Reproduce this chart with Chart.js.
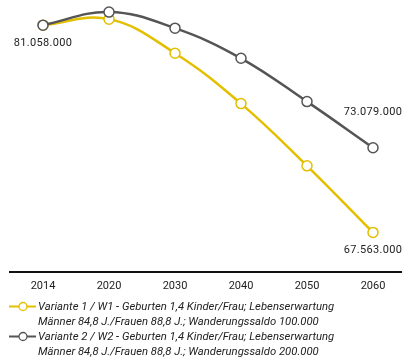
<!DOCTYPE html>
<html lang="de">
<head>
<meta charset="utf-8">
<script src="https://cdn.jsdelivr.net/npm/chart.js@4/dist/chart.umd.min.js"></script>
<style>
  html, body { margin: 0; padding: 0; background: #fff; overflow: hidden; }
  #wrap { position: relative; width: 402px; height: 363px; overflow: hidden; }
  #chart { position: absolute; left: 0; top: 0; }
  #legend { position: absolute; left: 0; top: 299px; width: 402px;
    font-family: Roboto, sans-serif; font-style: italic; font-size: 11.3px; color: #222; }
  .item { position: relative; padding-left: 38px; line-height: 15px; }
  .item svg { position: absolute; left: 9px; top: 2px; }
</style>
</head>
<body>
<div id="wrap">
  <canvas id="chart" width="406" height="301"></canvas>
  <div id="legend"></div>
</div>
<script>
// Bevölkerungsvorausberechnung, Werte in Mio.
const years = ['2014', '2020', '2030', '2040', '2050', '2060'];
const variante1 = [81.058, 81.45, 79.23, 75.95, 71.90, 67.563];
const variante2 = [81.058, 81.91, 80.86, 78.90, 76.08, 73.079];

const legend1 = ['Variante 1 / W1 - Geburten 1,4 Kinder/Frau; Lebenserwartung',
                 'Männer 84,8 J./Frauen 88,8 J.; Wanderungssaldo 100.000'];
const legend2 = ['Variante 2 / W2 - Geburten 1,4 Kinder/Frau; Lebenserwartung',
                 'Männer 84,8 J./Frauen 88,8 J.; Wanderungssaldo 200.000'];

const GELB = '#e3bf00';
const GRAU = '#555555';

// welche Punkte beschriftet werden: [datensatz, index, über/unter dem Punkt]
const beschriftungen = [[1, 0, 'unten'], [1, 5, 'oben'], [0, 5, 'unten']];

function fmt(v){
  const n = String(Math.round(v * 1e6));
  return n.replace(/\B(?=(\d{3})+(?!\d))/g, '.');
}

const wertLabels = {
  id: 'wertLabels',
  afterDatasetsDraw(chart){
    const ctx = chart.ctx;
    ctx.save();
    ctx.font = '11px Roboto, sans-serif';
    ctx.letterSpacing = '0.3px';
    ctx.fillStyle = '#222';
    ctx.textAlign = 'center';
    ctx.textBaseline = 'middle';
    beschriftungen.forEach(([ds, i, pos]) => {
      const v = chart.data.datasets[ds].data[i];
      const x = chart.scales.x.getPixelForValue(i);
      const y = chart.scales.y.getPixelForValue(v);
      ctx.fillText(fmt(v), x, pos === 'oben' ? y - 35 : y + 18);
    });
    ctx.restore();
  }
};

new Chart(document.getElementById('chart'), {
  type: 'line',
  data: {
    labels: years,
    datasets: [
      { label: legend1.join(' '), data: variante1, borderColor: GELB, order: 1 },
      { label: legend2.join(' '), data: variante2, borderColor: GRAU, order: 0 }
    ]
  },
  options: {
    responsive: false,
    animation: false,
    layout: { autoPadding: false, padding: { left: 10, right: 0, top: 3, bottom: 0 } },
    elements: {
      line: { borderWidth: 2.5, tension: 0.4 },
      point: { radius: 5, borderWidth: 1.5, backgroundColor: '#fff',
               borderColor: ctx => ctx.dataset.borderColor }
    },
    plugins: { legend: { display: false }, tooltip: { enabled: false } },
    scales: {
      x: {
        offset: true,
        grid: { display: false, drawTicks: false },
        border: { display: true, color: '#111', width: 2 },
        ticks: { color: '#222', font: { family: 'Roboto', size: 11 }, padding: 8 }
      },
      y: { display: false, min: 65, max: 82.5 }
    }
  },
  plugins: [wertLabels]
});

// Legende unter dem Diagramm
const legendEl = document.getElementById('legend');
[[legend1, GELB], [legend2, GRAU]].forEach(([zeilen, farbe]) => {
  const div = document.createElement('div');
  div.className = 'item';
  div.innerHTML = '<svg width="27" height="11"><line x1="0" y1="5.5" x2="27" y2="5.5" stroke="' + farbe +
    '" stroke-width="2"/><circle cx="14" cy="5.5" r="4" fill="#fff" stroke="' + farbe + '" stroke-width="1.3"/></svg>' +
    zeilen.join('<br>');
  legendEl.appendChild(div);
});
</script>
</body>
</html>
